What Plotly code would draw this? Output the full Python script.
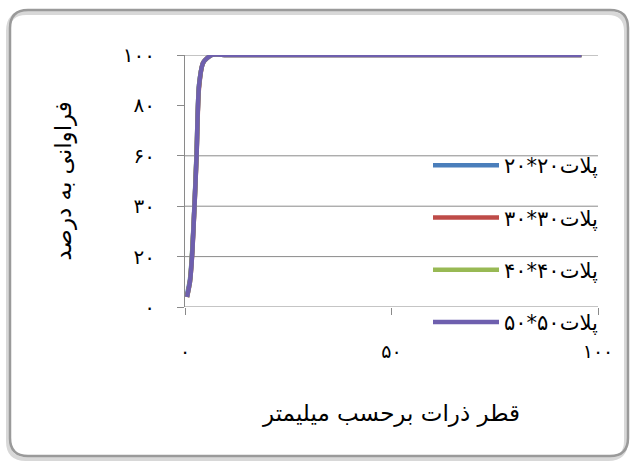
import plotly.graph_objects as go

# particle size (mm) vs passing percent, four plot sizes
names = ["پلات۲۰*۲۰", "پلات۳۰*۳۰", "پلات۴۰*۴۰", "پلات۵۰*۵۰"]
colors = ["#4a7ebb", "#be4b48", "#98b954", "#6e5fae"]

x_20 = [0.5, 1.2, 1.7, 2.3, 2.8, 3.4, 4.4, 6.5, 10, 20, 50, 96]
y_20 = [5, 11, 21, 41, 61, 88, 97, 100, 100, 100, 100, 100]
x_30 = [0.5, 1.2, 1.7, 2.3, 2.8, 3.4, 4.4, 6.5, 10, 20, 50, 96]
y_30 = [4, 10, 20, 40, 60, 87, 97, 100, 100, 100, 100, 100]
x_40 = [0.5, 1.2, 1.7, 2.3, 2.8, 3.4, 4.4, 6.5, 10, 20, 50, 96]
y_40 = [4, 10, 21, 40, 61, 88, 97, 100, 100, 100, 100, 100]
x_50 = [0.5, 1.2, 1.7, 2.3, 2.8, 3.4, 4.4, 6.5, 10, 20, 50, 96]
y_50 = [4, 10, 20, 40, 60, 88, 97, 100, 100, 100, 100, 100]

xs = [x_20, x_30, x_40, x_50]
ys = [y_20, y_30, y_40, y_50]

y_tickvals = [0, 20, 40, 60, 80, 100]
y_ticktext = ["۰", "۲۰", "۳۰", "۶۰", "۸۰", "۱۰۰"]
x_tickvals = [0, 50, 100]
x_ticktext = ["۰", "۵۰", "۱۰۰"]
grid_levels = [0, 20, 40, 60, 100]

W, H = 636, 463
L, R, T, B = 185, 38, 55, 156
pw, ph = W - L - R, H - T - B


def px(v):
    return (v - L) / pw


def py(v):
    return (H - B - v) / ph


def rounded(xa, ya, xb, yb, r):
    x0, x1, y0, y1 = px(xa), px(xb), py(ya), py(yb)
    rx, ry = r / pw, r / ph
    return (f"M{x0+rx},{y0} L{x1-rx},{y0} Q{x1},{y0} {x1},{y0-ry} "
            f"L{x1},{y1+ry} Q{x1},{y1} {x1-rx},{y1} L{x0+rx},{y1} "
            f"Q{x0},{y1} {x0},{y1+ry} L{x0},{y0-ry} Q{x0},{y0} {x0+rx},{y0} Z")


FONT = "DejaVu Sans"

fig = go.Figure()

# rounded chart frame like the excel chart area, with a soft shadow
fig.add_shape(type="path", path=rounded(8, 13, 626, 459, 18), xref="paper", yref="paper",
              line=dict(color="#d8d8d8", width=4), layer="below")
fig.add_shape(type="path", path=rounded(10, 10, 628, 456, 18), xref="paper", yref="paper",
              line=dict(color="#9a9a9a", width=2.5), layer="below")

for i in range(4):
    fig.add_trace(go.Scatter(
        x=xs[i], y=ys[i], name=names[i], mode="lines",
        line=dict(color=colors[i], width=4.5, shape="spline", smoothing=0.7),
        legendgroup=str(i),
    ))

for g in grid_levels:
    fig.add_hline(y=g, line=dict(color="#8a8a8a", width=1), layer="below")

fig.update_layout(
    width=W, height=H,
    margin=dict(l=L, r=R, t=T, b=B, autoexpand=False),
    paper_bgcolor="white", plot_bgcolor="rgba(0,0,0,0)",
    font=dict(family=FONT, size=14, color="black"),
    showlegend=True,
    legend=dict(
        x=px(428), y=py(145), xanchor="left", yanchor="top",
        bgcolor="rgba(0,0,0,0)", font=dict(size=21, family=FONT),
        tracegroupgap=22, itemwidth=66,
    ),
    xaxis=dict(
        range=[0, 100], tickvals=x_tickvals, ticktext=x_ticktext,
        showgrid=False, zeroline=False, showline=False,
        ticks="outside", ticklen=7, tickcolor="#8a8a8a",
        ticklabelstandoff=20, tickfont=dict(size=19),
        title=dict(text="قطر ذرات برحسب میلیمتر", font=dict(size=23), standoff=44),
    ),
    yaxis=dict(
        range=[0, 100], tickvals=y_tickvals, ticktext=y_ticktext,
        showgrid=False, zeroline=False, showline=True, linecolor="#8a8a8a",
        ticks="outside", ticklen=7, tickcolor="#8a8a8a",
        ticklabelstandoff=18, tickfont=dict(size=20),
        title=dict(text="فراوانی به درصد", font=dict(size=23), standoff=44),
    ),
)

fig.write_html("out.html", config={"displayModeBar": False},
               post_script="document.body.style.margin='0';")
